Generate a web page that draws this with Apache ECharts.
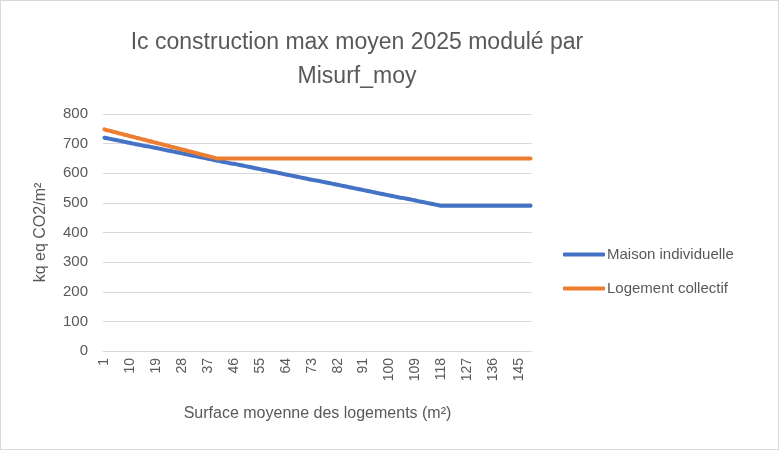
<!DOCTYPE html>
<html>
<head>
<meta charset="utf-8">
<script src="https://cdn.jsdelivr.net/npm/echarts@6/dist/echarts.min.js"></script>
<style>
  html, body { margin: 0; padding: 0; background: #fff; }
  #chart { width: 777px; height: 448px; border: 1px solid #d9d9d9; }
</style>
</head>
<body>
<div id="chart"></div>
<script>
// surface moyenne (m²)
const surfaces = [
  1,2,3,4,5,6,7,8,9,10,11,12,13,14,15,16,17,18,19,20,
  21,22,23,24,25,26,27,28,29,30,31,32,33,34,35,36,37,38,39,40,
  41,42,43,44,45,46,47,48,49,50,51,52,53,54,55,56,57,58,59,60,
  61,62,63,64,65,66,67,68,69,70,71,72,73,74,75,76,77,78,79,80,
  81,82,83,84,85,86,87,88,89,90,91,92,93,94,95,96,97,98,99,100,
  101,102,103,104,105,106,107,108,109,110,111,112,113,114,115,116,117,118,119,120,
  121,122,123,124,125,126,127,128,129,130,131,132,133,134,135,136,137,138,139,140,
  141,142,143,144,145,146,147,148,149
]

const maisonIndividuelle = [
  720,718,716,714,712,710,708,706,704,702,700,698,696,694,692,691,689,687,685,683,
  681,679,677,675,673,671,669,667,665,663,661,659,657,655,653,651,649,647,645,643,
  641,639,637,635,633,632,630,628,626,624,622,620,618,616,614,612,610,608,606,604,
  602,600,598,596,594,592,590,588,586,584,582,580,578,576,575,573,571,569,567,565,
  563,561,559,557,555,553,551,549,547,545,543,541,539,537,535,533,531,529,527,525,
  523,521,519,517,516,514,512,510,508,506,504,502,500,498,496,494,492,490,490,490,
  490,490,490,490,490,490,490,490,490,490,490,490,490,490,490,490,490,490,490,490,
  490,490,490,490,490,490,490,490,490
]

const logementCollectif = [
  748,745,743,740,738,735,733,730,728,725,723,720,718,715,713,710,708,705,703,700,
  698,695,693,690,688,685,683,680,678,675,673,670,668,665,663,660,658,655,653,650,
  650,650,650,650,650,650,650,650,650,650,650,650,650,650,650,650,650,650,650,650,
  650,650,650,650,650,650,650,650,650,650,650,650,650,650,650,650,650,650,650,650,
  650,650,650,650,650,650,650,650,650,650,650,650,650,650,650,650,650,650,650,650,
  650,650,650,650,650,650,650,650,650,650,650,650,650,650,650,650,650,650,650,650,
  650,650,650,650,650,650,650,650,650,650,650,650,650,650,650,650,650,650,650,650,
  650,650,650,650,650,650,650,650,650
]

const textColor = '#595959'
const font = 'Liberation Sans'

const myChart = echarts.init(document.getElementById('chart'))
myChart.setOption({
    animation: false,
    textStyle: { fontFamily: font },
    title: {
        text: 'Ic construction max moyen 2025 modulé par\nMisurf_moy',
        left: 351,
        top: 20,
        textAlign: 'center',
        textStyle: { color: textColor, fontSize: 23, fontWeight: 'normal', lineHeight: 34, fontFamily: font }
    },
    legend: {
        orient: 'vertical',
        left: 557,
        top: 241,
        itemGap: 19,
        itemWidth: 42,
        itemHeight: 4,
        icon: 'roundRect',
        textStyle: { color: textColor, fontSize: 15, padding: [0, 0, 0, -3] },
        data: ['Maison individuelle', 'Logement collectif']
    },
    grid: { left: 102, right: 246, top: 113, bottom: 98 },
    xAxis: {
        type: 'category',
        data: surfaces,
        boundaryGap: true,
        name: 'Surface moyenne des logements (m²)',
        nameLocation: 'middle',
        nameGap: 55,
        nameTextStyle: { color: textColor, fontSize: 16 },
        axisLine: { lineStyle: { color: '#d9d9d9', width: 1 } },
        axisTick: { show: false },
        axisLabel: { interval: 8, rotate: 90, color: textColor, fontSize: 14, margin: 7 }
    },
    yAxis: {
        type: 'value',
        min: 0,
        max: 800,
        interval: 100,
        name: 'kq eq CO2/m²',
        nameLocation: 'middle',
        nameGap: 54,
        nameTextStyle: { color: textColor, fontSize: 16 },
        axisLine: { show: false },
        axisTick: { show: false },
        axisLabel: { color: textColor, fontSize: 15, margin: 15 },
        splitLine: { lineStyle: { color: '#d9d9d9', width: 1 } }
    },
    series: [
        {
            name: 'Maison individuelle',
            type: 'line',
            data: maisonIndividuelle,
            showSymbol: false,
            itemStyle: { color: '#4472C4' },
            lineStyle: { color: '#4472C4', width: 4, cap: 'round' }
        },
        {
            name: 'Logement collectif',
            type: 'line',
            data: logementCollectif,
            showSymbol: false,
            itemStyle: { color: '#ED7D31' },
            lineStyle: { color: '#ED7D31', width: 4, cap: 'round' }
        }
    ]
})
</script>
</body>
</html>
